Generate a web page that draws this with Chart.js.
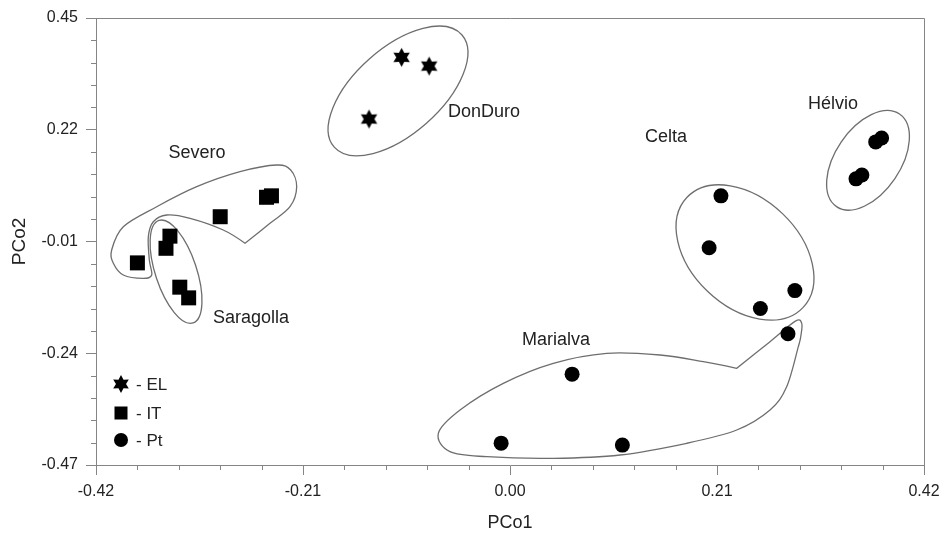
<!DOCTYPE html>
<html>
<head>
<meta charset="utf-8">
<script src="https://cdn.jsdelivr.net/npm/chart.js@4.4.0/dist/chart.umd.min.js"></script>
<style>
  html, body { margin: 0; padding: 0; background: #fff; }
</style>
</head>
<body>
<canvas id="chart" width="941" height="537"></canvas>
<script>
// PCoA scores
const elX = [-0.143, -0.110, -0.082];
const elY = [0.242, 0.369, 0.351];
const itX = [-0.378, -0.349, -0.345, -0.335, -0.326, -0.294, -0.247, -0.242];
const itY = [-0.054, -0.024, 0.001, -0.104, -0.126, 0.041, 0.081, 0.084];
const ptX = [0.214, 0.202, 0.254, 0.289, 0.351, 0.357, 0.371, 0.377, 0.282, 0.063, -0.009, 0.114];
const ptY = [0.084, -0.023, -0.148, -0.111, 0.119, 0.127, 0.195, 0.203, -0.200, -0.283, -0.425, -0.429];
const seriesNames = ['EL', 'IT', 'Pt'];

const xTicks = [-0.42, -0.21, 0.00, 0.21, 0.42];
const yTicks = [-0.47, -0.24, -0.01, 0.22, 0.45];

// variety names and where they sit (data units)
const groupNames = ['Severo', 'DonDuro', 'Saragolla', 'Celta', 'Hélvio', 'Marialva'];
const groupLabelX = [-0.3175, -0.0264, -0.2627, 0.1583, 0.3277, 0.0467];
const groupLabelY = [0.172, 0.2565, -0.1675, 0.2051, 0.272, -0.2128];

const axisGray = '#858585';
const lineGray = '#6e6e6e';
const textColor = '#222';
const fontFamily = "'Liberation Sans', Arial, Helvetica, sans-serif";

// hand drawn group outlines
// ellipses: centre in data units, semi axes in px, rotation in degrees
const ellipses = [
    { cx: -0.1136, cy: 0.2998, a: 85, b: 43, rot: -41.4 },   // DonDuro
    { cx: 0.2384, cy: -0.0326, a: 80, b: 54, rot: 43.6 },    // Celta
    { cx: 0.3632, cy: 0.1571, a: 56, b: 32.5, rot: -55.8 },  // Hélvio
    { cx: -0.3388, cy: -0.0722, a: 54, b: 20.6, rot: 71.6 }  // Saragolla
];
// free shapes: closed smooth curves through points (data units), corner = sharp point
const severoPath = [
    [-0.4041, -0.0275], [-0.3923, 0.0205], [-0.3584, 0.0616], [-0.3178, 0.1028],
    [-0.2739, 0.1337], [-0.2367, 0.1474], [-0.2225, 0.1372], [-0.2164, 0.1028],
    [-0.2232, 0.0616], [-0.2435, 0.0275], [-0.2688, -0.0137, 'corner'], [-0.2909, 0.0137],
    [-0.3246, 0.0377], [-0.3483, 0.0445], [-0.3619, 0.0307], [-0.3669, 0.0],
    [-0.3659, -0.0481], [-0.3635, -0.0790], [-0.3720, -0.0858], [-0.3923, -0.0790],
    [-0.4024, -0.0549]
];
const marialvaPath = [
    [-0.0727, -0.4048], [-0.0507, -0.3568], [-0.0068, -0.3019], [0.0439, -0.2607],
    [0.0981, -0.2401], [0.1522, -0.2436], [0.1961, -0.2574], [0.2300, -0.2710, 'corner'],
    [0.2638, -0.2162], [0.2895, -0.1740], [0.2960, -0.1790], [0.2950, -0.2050],
    [0.2925, -0.2265], [0.2807, -0.3089], [0.2638, -0.3568], [0.2300, -0.3980],
    [0.1793, -0.4253], [0.1116, -0.4494], [0.0439, -0.4562], [-0.0236, -0.4529],
    [-0.0609, -0.4426]
];

function withMinor(majors) {
    const out = [];
    for (let i = 0; i < majors.length; i++) {
        out.push({ value: majors[i], major: true });
        if (i < majors.length - 1) {
            const step = (majors[i + 1] - majors[i]) / 5;
            for (let k = 1; k < 5; k++) {
                out.push({ value: majors[i] + k * step, major: false });
            }
        }
    }
    return out;
}

function makeStar(r) {
    const c = document.createElement('canvas');
    const s = Math.ceil(r * 2 + 2);
    c.width = s;
    c.height = s;
    const g = c.getContext('2d');
    g.translate(s / 2, s / 2);
    g.beginPath();
    for (let i = 0; i < 12; i++) {
        const ang = -Math.PI / 2 + i * Math.PI / 6;
        const rr = i % 2 ? r * 0.56 : r;
        g.lineTo(rr * Math.cos(ang), rr * Math.sin(ang));
    }
    g.closePath();
    g.fillStyle = '#000';
    g.fill();
    return c;
}

const starBig = makeStar(9.5);
const starSmall = makeStar(9);

function toPoints(xs, ys) {
    return xs.map((x, i) => ({ x: x, y: ys[i] }));
}

function drawClosedSpline(ctx, pts) {
    const n = pts.length;
    const P = i => pts[(i + n) % n];
    ctx.beginPath();
    ctx.moveTo(pts[0].x, pts[0].y);
    for (let i = 0; i < n; i++) {
        const p0 = P(i - 1), p1 = P(i), p2 = P(i + 1), p3 = P(i + 2);
        let c1x = p1.x + (p2.x - p0.x) / 6, c1y = p1.y + (p2.y - p0.y) / 6;
        let c2x = p2.x - (p3.x - p1.x) / 6, c2y = p2.y - (p3.y - p1.y) / 6;
        if (p1.corner) { c1x = p1.x; c1y = p1.y; }
        if (p2.corner) { c2x = p2.x; c2y = p2.y; }
        ctx.bezierCurveTo(c1x, c1y, c2x, c2y, p2.x, p2.y);
    }
    ctx.closePath();
    ctx.stroke();
}

// outlines drawn under the markers
const outlinePlugin = {
    id: 'outlines',
    beforeDatasetsDraw(chart) {
        const ctx = chart.ctx;
        const xs = chart.scales.x, ys = chart.scales.y;
        ctx.save();
        ctx.strokeStyle = lineGray;
        ctx.lineWidth = 1.3;
        ellipses.forEach(e => {
            ctx.beginPath();
            ctx.ellipse(xs.getPixelForValue(e.cx), ys.getPixelForValue(e.cy), e.a, e.b,
                e.rot * Math.PI / 180, 0, Math.PI * 2);
            ctx.stroke();
        });
        [severoPath, marialvaPath].forEach(path => {
            const pts = path.map(p => ({
                x: xs.getPixelForValue(p[0]),
                y: ys.getPixelForValue(p[1]),
                corner: p[2] === 'corner'
            }));
            drawClosedSpline(ctx, pts);
        });
        ctx.restore();
    }
};

// frame, minor ticks, group names and the inset legend
const decorPlugin = {
    id: 'decor',
    afterDraw(chart) {
        const ctx = chart.ctx;
        const a = chart.chartArea;
        const xs = chart.scales.x, ys = chart.scales.y;
        ctx.save();
        ctx.strokeStyle = axisGray;
        ctx.lineWidth = 1;
        ctx.beginPath();
        ctx.moveTo(a.left, a.top + 0.5);
        ctx.lineTo(a.right + 0.5, a.top + 0.5);
        ctx.lineTo(a.right + 0.5, a.bottom);
        ctx.stroke();

        // minor ticks
        ctx.beginPath();
        xs.ticks.forEach(t => {
            if (t.major) return;
            const px = Math.round(xs.getPixelForValue(t.value)) + 0.5;
            ctx.moveTo(px, a.bottom);
            ctx.lineTo(px, a.bottom + 5);
        });
        ys.ticks.forEach(t => {
            if (t.major) return;
            const py = Math.round(ys.getPixelForValue(t.value)) + 0.5;
            ctx.moveTo(a.left, py);
            ctx.lineTo(a.left - 5, py);
        });
        ctx.stroke();

        // group names
        ctx.fillStyle = textColor;
        ctx.font = '18px ' + fontFamily;
        ctx.textAlign = 'center';
        ctx.textBaseline = 'middle';
        groupNames.forEach((name, i) => {
            ctx.fillText(name, xs.getPixelForValue(groupLabelX[i]), ys.getPixelForValue(groupLabelY[i]));
        });

        // legend, bottom left inside the plot
        ctx.font = '17px ' + fontFamily;
        ctx.textAlign = 'left';
        const lx = a.left + 25;
        const rows = [a.bottom - 81, a.bottom - 52, a.bottom - 25];
        chart.data.datasets.forEach((ds, i) => {
            const st = {
                pointStyle: i === 0 ? starSmall : ds.pointStyle,
                radius: i === 1 ? 9.2 : 7,
                rotation: 0,
                borderWidth: 0
            };
            ctx.fillStyle = '#000';
            ctx.strokeStyle = '#000';
            Chart.helpers.drawPoint(ctx, st, lx, rows[i]);
            ctx.fillStyle = textColor;
            ctx.fillText('- ' + seriesNames[i], lx + 15, rows[i] + 1);
        });
        ctx.restore();
    }
};

function initChart() {
    const ctx = document.getElementById('chart').getContext('2d');
    new Chart(ctx, {
        type: 'scatter',
        data: {
            datasets: [{
                label: seriesNames[0],
                data: toPoints(elX, elY),
                pointStyle: starBig,
                pointRadius: 9,
                backgroundColor: '#000',
                borderColor: '#000',
                borderWidth: 0
            }, {
                label: seriesNames[1],
                data: toPoints(itX, itY),
                pointStyle: 'rect',
                pointRadius: 10.6,
                backgroundColor: '#000',
                borderColor: '#000',
                borderWidth: 0
            }, {
                label: seriesNames[2],
                data: toPoints(ptX, ptY),
                pointStyle: 'circle',
                pointRadius: 7.5,
                backgroundColor: '#000',
                borderColor: '#000',
                borderWidth: 0
            }]
        },
        options: {
            responsive: false,
            animation: false,
            devicePixelRatio: 1,
            layout: { padding: { left: 0, top: 18, right: 17, bottom: 0 } },
            plugins: {
                legend: { display: false },
                tooltip: { enabled: false }
            },
            scales: {
                x: {
                    type: 'linear',
                    min: xTicks[0],
                    max: xTicks[xTicks.length - 1],
                    afterBuildTicks: s => { s.ticks = withMinor(xTicks); },
                    afterFit: s => {
                        s.height = 72;
                        s.paddingLeft = 0;
                        s.paddingRight = 0;
                    },
                    grid: {
                        drawOnChartArea: false,
                        tickLength: 10,
                        tickColor: c => (c.tick && c.tick.major) ? axisGray : 'rgba(0,0,0,0)'
                    },
                    border: { color: axisGray, width: 1 },
                    ticks: {
                        autoSkip: false,
                        maxRotation: 0,
                        padding: 7,
                        color: textColor,
                        font: { family: fontFamily, size: 16 },
                        callback: (v, i, ticks) => ticks[i].major ? v.toFixed(2) : ''
                    },
                    title: {
                        display: true,
                        text: 'PCo1',
                        color: textColor,
                        font: { family: fontFamily, size: 18 },
                        padding: { top: 0, bottom: 3 }
                    }
                },
                y: {
                    type: 'linear',
                    min: yTicks[0],
                    max: yTicks[yTicks.length - 1],
                    afterBuildTicks: s => { s.ticks = withMinor(yTicks); },
                    afterFit: s => {
                        s.width = 96;
                        s.paddingTop = 0;
                        s.paddingBottom = 0;
                    },
                    grid: {
                        drawOnChartArea: false,
                        tickLength: 10,
                        tickColor: c => (c.tick && c.tick.major) ? axisGray : 'rgba(0,0,0,0)'
                    },
                    border: { color: axisGray, width: 1 },
                    ticks: {
                        autoSkip: false,
                        padding: 8,
                        color: textColor,
                        font: { family: fontFamily, size: 16 },
                        callback: (v, i, ticks) => ticks[i].major ? v.toFixed(2) : ''
                    },
                    title: {
                        display: true,
                        text: 'PCo2',
                        color: textColor,
                        font: { family: fontFamily, size: 19 },
                        padding: { top: 8, bottom: 0 }
                    }
                }
            }
        },
        plugins: [outlinePlugin, decorPlugin]
    });
}

document.addEventListener('DOMContentLoaded', initChart);
</script>
</body>
</html>
